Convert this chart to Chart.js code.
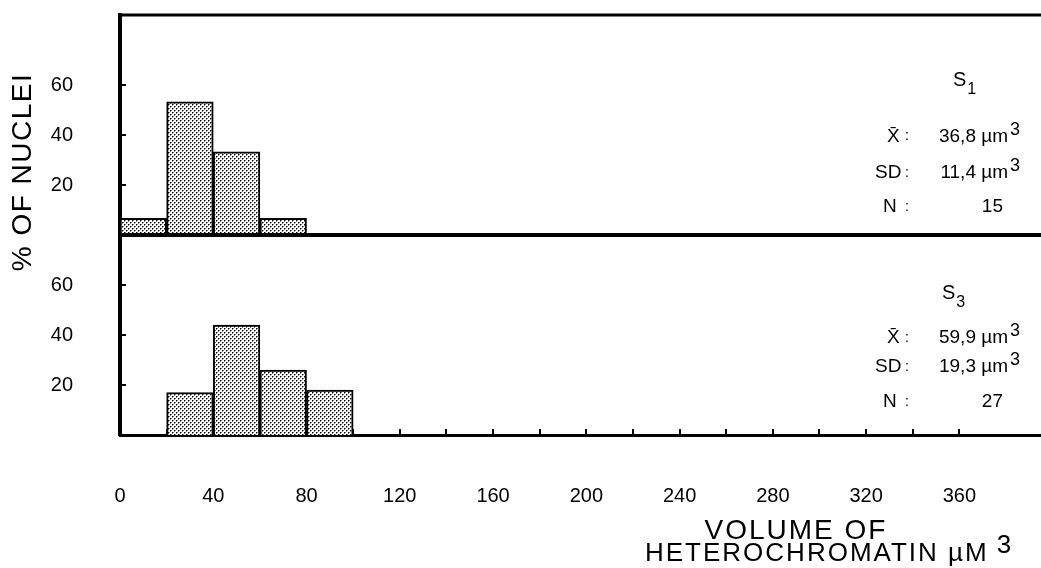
<!DOCTYPE html>
<html><head><meta charset="utf-8">
<script src="https://cdn.jsdelivr.net/npm/chart.js@4.4.1/dist/chart.umd.min.js"></script>
<style>html,body{margin:0;padding:0;background:#fff;overflow:hidden}#wrap{position:relative;width:1041px;height:568px}</style>
</head><body><div id="wrap"><canvas id="c" width="1041" height="568"></canvas></div>
<script>
// ---- data ----
const binCenters = [10, 30, 50, 70, 90];          // volume classes (µm³), width 20
const s1Percent  = [6.7, 53.3, 33.3, 6.7, null];  // % of nuclei, S1
const s3Percent  = [null, 17, 44, 26, 18];        // % of nuclei, S3
const xTickLabels = [0, 40, 80, 120, 160, 200, 240, 280, 320, 360];
const xMinorTicks = [20, 40, 60, 80, 100, 120, 140, 160, 180, 200, 220, 240, 260, 280, 300, 320, 340, 360];
const yTickLabels = [20, 40, 60];
const panelNames = ['S', 'S'];
const panelSubs  = ['1', '3'];
const meanValues = ['36,8', '59,9'];
const sdValues   = ['11,4', '19,3'];
const nValues    = ['15', '27'];
const yTitle = '% OF NUCLEI';
const xTitleLines = ['VOLUME OF', 'HETEROCHROMATIN µM'];

const FAM = "'Liberation Sans', Arial, Helvetica, sans-serif";

function toPoints(vals){
  const out = [];
  binCenters.forEach((c, i) => { if (vals[i] !== null) out.push({x: c, y: vals[i]}); });
  return out;
}

const canvas = document.getElementById('c');
const ctx0 = canvas.getContext('2d');
function makePattern(){
  const p = document.createElement('canvas'); p.width = 4; p.height = 4;
  const g = p.getContext('2d');
  g.fillStyle = '#fff'; g.fillRect(0,0,4,4);
  g.fillStyle = 'rgba(0,0,0,0.5)';
  g.fillRect(1,0,1,1); g.fillRect(0,1,1,1); g.fillRect(3,2,1,1); g.fillRect(2,3,1,1);
  g.fillStyle = '#000';
  g.fillRect(0,0,1,1); g.fillRect(2,2,1,1);
  return ctx0.createPattern(p, 'repeat');
}
const dots = makePattern();

function noPad(s){ s.paddingTop = 0; s.paddingBottom = 0; s.paddingLeft = 0; s.paddingRight = 0; }

const overlay = {
  id: 'overlay',
  beforeDatasetsDraw(chart){
    const {ctx, chartArea, scales} = chart;
    ctx.save();
    ctx.strokeStyle = '#000'; ctx.lineWidth = 2;
    xMinorTicks.forEach(v => {
      const px = Math.round(scales.x.getPixelForValue(v));
      ctx.beginPath(); ctx.moveTo(px, chartArea.bottom); ctx.lineTo(px, chartArea.bottom - 6); ctx.stroke();
    });
    ['yTop', 'yBot'].forEach(id => {
      yTickLabels.forEach(v => {
        const py = Math.round(scales[id].getPixelForValue(v));
        ctx.beginPath(); ctx.moveTo(chartArea.left, py); ctx.lineTo(chartArea.left + 6, py); ctx.stroke();
      });
    });
    ctx.restore();
  },
  afterDatasetsDraw(chart){
    const {ctx, chartArea, scales} = chart;
    ctx.save();
    ctx.strokeStyle = '#000';
    const yT = scales.yTop.getPixelForValue(scales.yTop.max);
    const yM = scales.yTop.getPixelForValue(0);
    ctx.lineWidth = 3;
    ctx.beginPath(); ctx.moveTo(chartArea.left - 2, yT); ctx.lineTo(chartArea.right, yT); ctx.stroke();
    ctx.lineWidth = 4;
    ctx.beginPath(); ctx.moveTo(chartArea.left - 2, yM); ctx.lineTo(chartArea.right, yM); ctx.stroke();
    ctx.restore();
  },
  afterDraw(chart){
    const {ctx} = chart;
    ctx.save();
    ctx.fillStyle = '#000';
    ctx.save();
    ctx.translate(23, 172); ctx.rotate(-Math.PI/2);
    ctx.font = '28px ' + FAM; ctx.letterSpacing = '1.5px';
    ctx.textAlign = 'center'; ctx.textBaseline = 'middle';
    ctx.fillText(yTitle, 0, 0);
    ctx.restore();
    ctx.save();
    ctx.letterSpacing = '2px';
    ctx.textBaseline = 'middle';
    ctx.font = '28px ' + FAM; ctx.textAlign = 'center';
    ctx.fillText(xTitleLines[0], 796, 531);
    ctx.font = '26px ' + FAM; ctx.textAlign = 'left';
    ctx.fillText(xTitleLines[1], 645, 554);
    const w2 = ctx.measureText(xTitleLines[1]).width;
    ctx.letterSpacing = '0px';
    ctx.fillText('3', 645 + w2 + 8, 546);
    ctx.restore();
    const rows = [
      {sx: 953, sY: 80, mY: 136.5, dY: 173, nY: 207},
      {sx: 942, sY: 293, mY: 338, dY: 367, nY: 402}
    ];
    rows.forEach((r, i) => {
      ctx.textBaseline = 'middle';
      ctx.font = '20px ' + FAM; ctx.textAlign = 'left';
      ctx.fillText(panelNames[i], r.sx, r.sY);
      const sw = ctx.measureText(panelNames[i]).width;
      ctx.font = '16px ' + FAM;
      ctx.fillText(panelSubs[i], r.sx + sw + 1, r.sY + 10);
      ctx.font = '19px ' + FAM;
      ctx.fillText('X\u0304', 887, r.mY);
      ctx.fillText('SD', 875, r.dY);
      ctx.fillText('N', 883, r.nY);
      ctx.font = '14px ' + FAM;
      [r.mY, r.dY, r.nY].forEach(y => ctx.fillText(':', 905, y));
      ctx.font = '19px ' + FAM; ctx.textAlign = 'right';
      ctx.fillText(meanValues[i] + ' µm', 1008, r.mY);
      ctx.fillText(sdValues[i] + ' µm', 1008, r.dY);
      ctx.fillText(nValues[i], 1003, r.nY);
      ctx.textAlign = 'left'; ctx.font = '18px ' + FAM;
      ctx.fillText('3', 1010, r.mY - 6.5);
      ctx.fillText('3', 1010, r.dY - 6.5);
    });
    ctx.restore();
  }
};

const barStyle = {
  backgroundColor: dots, borderColor: '#000', borderWidth: 2,
  barPercentage: 1, categoryPercentage: 1, grouped: false
};

new Chart(canvas, {
  type: 'bar',
  data: {
    datasets: [
      Object.assign({label: 'S1', data: toPoints(s1Percent), xAxisID: 'x', yAxisID: 'yTop'}, barStyle),
      Object.assign({label: 'S3', data: toPoints(s3Percent), xAxisID: 'x', yAxisID: 'yBot'}, barStyle)
    ]
  },
  options: {
    responsive: false, animation: false, devicePixelRatio: 1,
    layout: {padding: {top: 15, right: 0, bottom: 0, left: 0}},
    plugins: {legend: {display: false}, tooltip: {enabled: false}, title: {display: false}, colors: {enabled: false}},
    scales: {
      x: {
        type: 'linear', position: 'bottom', min: 0, max: 395, offset: false, z: 1,
        grid: {display: false, offset: false, drawTicks: false},
        border: {display: true, color: '#000', width: 3},
        ticks: {stepSize: 20, autoSkip: false, maxRotation: 0, padding: 49, color: '#000',
                font: {size: 20, family: FAM},
                callback: v => xTickLabels.includes(v) ? String(v) : ''},
        afterFit(s){ s.height = 133; noPad(s); }
      },
      yBot: {
        type: 'linear', position: 'left', stack: 'panels', stackWeight: 80,
        min: 0, max: 80, offset: false, z: 1,
        grid: {display: false, drawTicks: false},
        border: {display: true, color: '#000', width: 4},
        ticks: {stepSize: 20, padding: 47, color: '#000', font: {size: 20, family: FAM},
                callback: v => yTickLabels.includes(v) ? String(v) : ''},
        afterFit(s){ s.width = 120; noPad(s); }
      },
      yTop: {
        type: 'linear', position: 'left', stack: 'panels', stackWeight: 88,
        min: 0, max: 88, offset: false, z: 1,
        grid: {display: false, drawTicks: false},
        border: {display: true, color: '#000', width: 4},
        ticks: {stepSize: 20, padding: 47, color: '#000', font: {size: 20, family: FAM},
                callback: v => yTickLabels.includes(v) ? String(v) : ''},
        afterFit(s){ s.width = 120; noPad(s); }
      }
    }
  },
  plugins: [overlay]
});
</script>
</body></html>
